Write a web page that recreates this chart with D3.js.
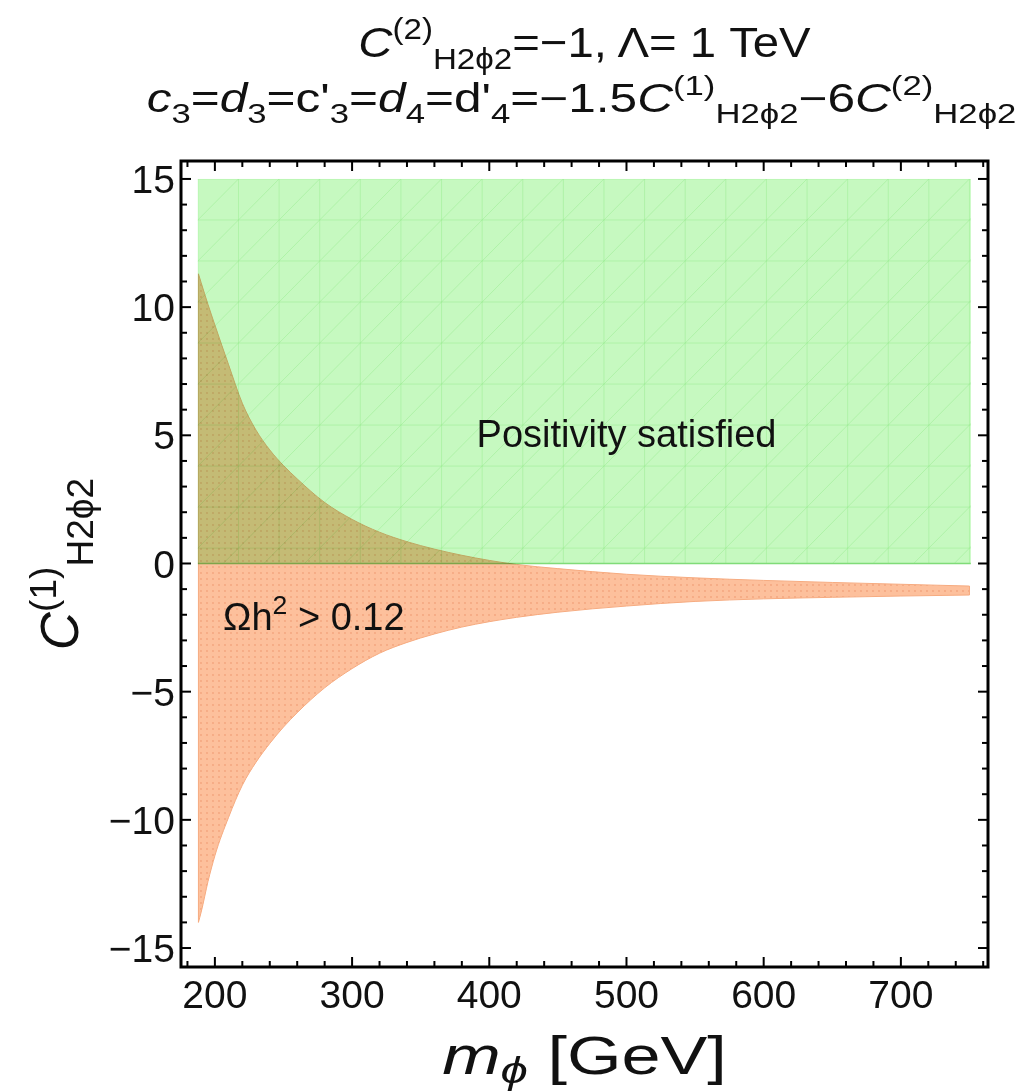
<!DOCTYPE html>
<html>
<head>
<meta charset="utf-8">
<script src="https://cdn.jsdelivr.net/npm/d3@7"></script>
<style>
  body { margin: 0; background: #fff; }
  text { font-family: "Liberation Sans", Arial, sans-serif; fill: #111; }
</style>
</head>
<body>
<div id="chart"></div>
<script>
const width = 1025;
const height = 1091;

// m_phi grid (GeV) and the boundaries of the relic-density region
const massGrid = [188, 190, 195, 200, 210, 220, 230, 240, 250, 260, 280, 300, 320, 340, 360, 380, 400, 420, 450, 500, 550, 600, 650, 700, 750];
const relicUpper = [11.3, 10.95, 10.1, 9.3, 7.75, 6.25, 5.2, 4.43, 3.82, 3.3, 2.38, 1.72, 1.22, 0.85, 0.56, 0.32, 0.12, -0.04, -0.2, -0.42, -0.56, -0.66, -0.74, -0.81, -0.88];
const relicLower = [-14.0, -13.6, -12.4, -11.4, -9.9, -8.65, -7.75, -7.02, -6.38, -5.82, -4.85, -4.1, -3.5, -3.08, -2.75, -2.48, -2.27, -2.1, -1.9, -1.66, -1.48, -1.38, -1.32, -1.27, -1.23];

// positivity region: C1 >= 0 over the scanned mass range
const positivityMass = [187.6, 751];
const positivityC = [0, 15];

const xTicks = [200, 300, 400, 500, 600, 700];
const yTicks = [-15, -10, -5, 0, 5, 10, 15];

const frame = { left: 181, right: 988, top: 161, bottom: 967 };

const x = d3.scaleLinear().domain([175.3, 763.5]).range([frame.left, frame.right]);
const y = d3.scaleLinear().domain([-15.74, 15.70]).range([frame.bottom, frame.top]);

const svg = d3.select('#chart').append('svg')
    .attr('width', width)
    .attr('height', height)
    .style('background', '#fff');

const defs = svg.append('defs');
const dots = defs.append('pattern')
    .attr('id', 'dots')
    .attr('patternUnits', 'userSpaceOnUse')
    .attr('width', 6).attr('height', 6);
dots.append('rect').attr('width', 6).attr('height', 6).attr('fill', '#fdc09c');
dots.append('circle').attr('cx', 3).attr('cy', 3).attr('r', 0.9).attr('fill', '#f4a47c');

defs.append('clipPath').attr('id', 'greenClip')
  .append('rect')
    .attr('x', x(positivityMass[0]))
    .attr('y', y(positivityC[1]))
    .attr('width', x(positivityMass[1]) - x(positivityMass[0]))
    .attr('height', y(positivityC[0]) - y(positivityC[1]));

// green positivity region
const green = svg.append('g');
green.append('rect')
    .attr('x', x(positivityMass[0]))
    .attr('y', y(positivityC[1]))
    .attr('width', x(positivityMass[1]) - x(positivityMass[0]))
    .attr('height', y(positivityC[0]) - y(positivityC[1]))
    .attr('fill', '#c6f9c0');

// faint triangular mesh like mathematica draws
const meshX = d3.range(positivityMass[0], positivityMass[1] + 1, 29.6);
const meshY = d3.range(positivityC[1], positivityC[0] - 0.01, -1.6);
const mesh = green.append('g').attr('clip-path', 'url(#greenClip)')
    .attr('stroke', '#94ea8c').attr('stroke-opacity', 0.45).attr('stroke-width', 1);
mesh.selectAll('.mv').data(meshX).join('line')
    .attr('x1', d => x(d)).attr('x2', d => x(d))
    .attr('y1', y(positivityC[1])).attr('y2', y(positivityC[0]));
mesh.selectAll('.mh').data(meshY).join('line')
    .attr('x1', x(positivityMass[0])).attr('x2', x(positivityMass[1]))
    .attr('y1', d => y(d)).attr('y2', d => y(d));
const dx = x(meshX[1]) - x(meshX[0]);
const dy = y(meshY[1]) - y(meshY[0]);
mesh.selectAll('.md').data(d3.range(-12, meshX.length + 2)).join('line')
    .attr('x1', i => x(meshX[0]) + i * dx)
    .attr('y1', y(positivityC[1]) + 12 * dy)
    .attr('x2', i => x(meshX[0]) + (i + 12) * dx)
    .attr('y2', y(positivityC[1]));

green.append('line')
    .attr('x1', x(positivityMass[0])).attr('x2', x(positivityMass[1]))
    .attr('y1', y(0)).attr('y2', y(0))
    .attr('stroke', '#80dc78').attr('stroke-width', 1.5);

// relic density region
const relic = massGrid.map((m, i) => ({ m, lo: relicLower[i], hi: relicUpper[i] }));
const area = d3.area()
    .x(d => x(d.m))
    .y0(d => y(d.lo))
    .y1(d => y(d.hi))
    .curve(d3.curveMonotoneX);

svg.append('path')
    .datum(relic)
    .attr('d', area)
    .attr('fill', 'url(#dots)')
    .attr('stroke', '#f6ab80')
    .attr('stroke-width', 1)
    .style('mix-blend-mode', 'multiply');

// frame + ticks on all four sides, pointing inwards
const fr = svg.append('g');
const xMinor = d3.range(180, 761, 20).filter(v => v % 100 !== 0);
const yMinor = d3.range(-15, 16, 1).filter(v => v % 5 !== 0);
const tickMajor = 10, tickMinor = 6;

function ticksX(vals, len) {
  fr.selectAll(null).data(vals).join('line')
      .attr('x1', d => x(d)).attr('x2', d => x(d))
      .attr('y1', frame.bottom).attr('y2', frame.bottom - len)
      .attr('stroke', '#000').attr('stroke-width', 2);
  fr.selectAll(null).data(vals).join('line')
      .attr('x1', d => x(d)).attr('x2', d => x(d))
      .attr('y1', frame.top).attr('y2', frame.top + len)
      .attr('stroke', '#000').attr('stroke-width', 2);
}
function ticksY(vals, len) {
  fr.selectAll(null).data(vals).join('line')
      .attr('y1', d => y(d)).attr('y2', d => y(d))
      .attr('x1', frame.left).attr('x2', frame.left + len)
      .attr('stroke', '#000').attr('stroke-width', 2);
  fr.selectAll(null).data(vals).join('line')
      .attr('y1', d => y(d)).attr('y2', d => y(d))
      .attr('x1', frame.right).attr('x2', frame.right - len)
      .attr('stroke', '#000').attr('stroke-width', 2);
}
ticksX(xTicks, tickMajor);
ticksX(xMinor, tickMinor);
ticksY(yTicks, tickMajor);
ticksY(yMinor, tickMinor);

fr.append('rect')
    .attr('x', frame.left).attr('y', frame.top)
    .attr('width', frame.right - frame.left)
    .attr('height', frame.bottom - frame.top)
    .attr('fill', 'none').attr('stroke', '#000').attr('stroke-width', 3);

svg.append('g').selectAll('text').data(xTicks).join('text')
    .attr('x', d => x(d)).attr('y', 1008)
    .attr('text-anchor', 'middle').attr('font-size', 39)
    .text(d => d);

svg.append('g').selectAll('text').data(yTicks).join('text')
    .attr('x', 175).attr('y', d => y(d)).attr('dy', '0.36em')
    .attr('text-anchor', 'end').attr('font-size', 39)
    .text(d => d < 0 ? '\u2212' + Math.abs(d) : d);

// text with super/subscripts: parts = [text, kind, italic]
function rich(sel, parts, size, subShift = 0.28) {
  let off = 0;
  parts.forEach(([t, kind, it]) => {
    const target = kind === 'sup' ? -0.42 * size : kind === 'sub' ? subShift * size : 0;
    sel.append('tspan')
        .attr('dy', target - off)
        .attr('font-size', kind === 'n' ? size : size * 0.7)
        .attr('font-style', it ? 'italic' : 'normal')
        .text(t);
    off = target;
  });
}

const cx = (frame.left + frame.right) / 2;

// the title and axis labels come out wider in the original, so stretch them a bit
rich(svg.append('text').attr('transform', `translate(${cx},57) scale(1.1,1)`).attr('text-anchor', 'middle'), [
  ['C', 'n', true], ['(2)', 'sup'], ['H2\u03d52', 'sub'], ['=\u22121, \u039b= 1 TeV', 'n']
], 43);

rich(svg.append('text').attr('transform', `translate(${cx - 3},112) scale(1.24,1)`).attr('text-anchor', 'middle'), [
  ['c', 'n', true], ['3', 'sub'], ['=', 'n'], ['d', 'n', true], ['3', 'sub'],
  ['=c\'', 'n'], ['3', 'sub'], ['=', 'n'], ['d', 'n', true], ['4', 'sub'],
  ['=d\'', 'n'], ['4', 'sub'], ['=\u22121.5', 'n'], ['C', 'n', true], ['(1)', 'sup'],
  ['H2\u03d52', 'sub'], ['\u22126', 'n'], ['C', 'n', true], ['(2)', 'sup'], ['H2\u03d52', 'sub']
], 40);

rich(svg.append('text').attr('transform', `translate(${cx},1074) scale(1.3,1)`).attr('text-anchor', 'middle'), [
  ['m', 'n', true], ['\u03d5', 'sub', true], [' [GeV]', 'n']
], 54, 0.16);

rich(svg.append('text')
    .attr('transform', `translate(78,${(frame.top + frame.bottom) / 2}) rotate(-90)`)
    .attr('text-anchor', 'middle'), [
  ['C', 'n', true], ['(1)', 'sup'], ['H2\u03d52', 'sub']
], 53);

svg.append('text')
    .attr('x', x(500)).attr('y', y(4.55))
    .attr('text-anchor', 'middle').attr('font-size', 38)
    .text('Positivity satisfied');

rich(svg.append('text').attr('x', 223).attr('y', 630), [
  ['\u03a9h', 'n'], ['2', 'sup'], [' > 0.12', 'n']
], 38);
</script>
</body>
</html>
